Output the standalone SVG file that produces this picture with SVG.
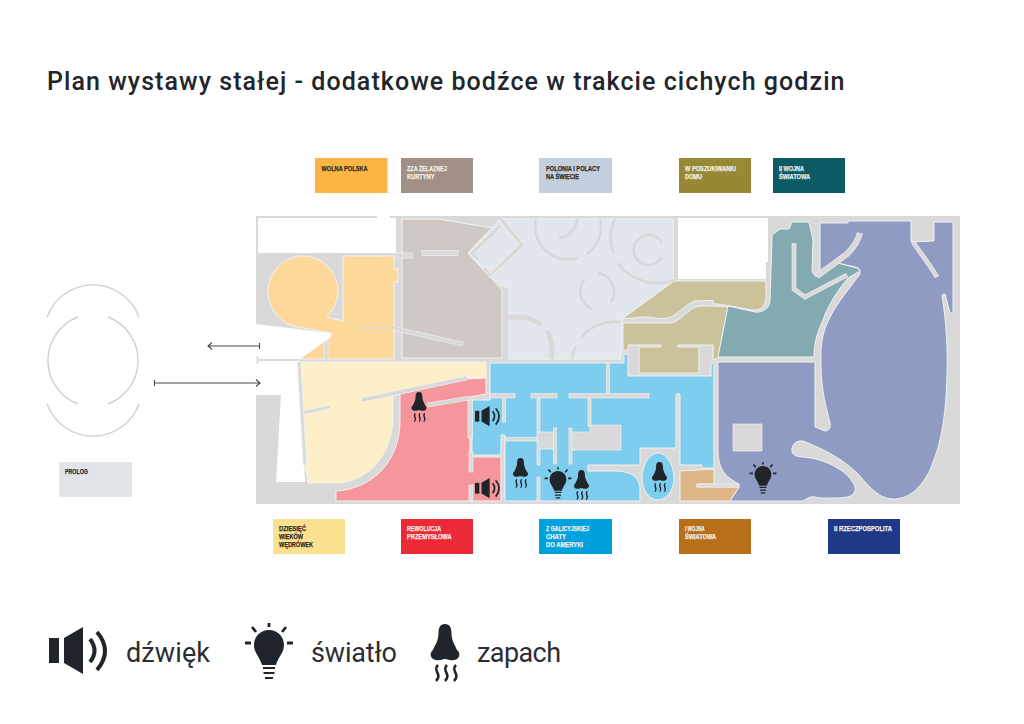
<svg xmlns="http://www.w3.org/2000/svg" xmlns:xlink="http://www.w3.org/1999/xlink" width="1024" height="724" viewBox="0 0 1024 724">
<style>
text{font-family:"Roboto","Liberation Sans",sans-serif}
.title{font-size:25px;font-weight:500;fill:#22262b;letter-spacing:.5px}
.leg{font-size:27px;fill:#2a2e33}
.l{font-family:"Liberation Sans",Arial,sans-serif;font-size:8px;font-weight:700;stroke-width:.25}
.d{fill:#2b2b26;stroke:#2b2b26}.w{fill:#f4f1ea;stroke:#f4f1ea}
.room{stroke:#f2f2f2;stroke-width:1;stroke-linejoin:round}
.wall{fill:#d9d9d9;stroke:#f0f0f0;stroke-width:.7}
.ln{fill:none;stroke:#f0f0f0;stroke-width:4.600;stroke-linecap:butt}
.li{fill:none;stroke:#d9d9d9;stroke-width:3.400;stroke-linecap:butt;stroke-linejoin:miter}
.a{fill:none;stroke:#d8d8d8;stroke-width:2.600;stroke-linecap:butt}
.a2{fill:none;stroke:#d9d9d9;stroke-width:5}
.pro{fill:none;stroke:#cfcfcf;stroke-width:1.4}
.ar{fill:none;stroke:#4a4a4a;stroke-width:1.1}
.ico{fill:#20242b}
.ics{fill:none;stroke:#20242b}
</style>
<defs>
<g id="speaker">
<rect class="ico" x="-29" y="-12" width="10" height="25"/>
<path class="ico" d="M-14,-12L5,-23V24L-14,13Z"/>
<path class="ics" stroke-width="4" d="M12,-11Q21,1 12,12"/>
<path class="ics" stroke-width="4" d="M19,-18Q35,1 19,20"/>
</g>
<g id="bulb">
<path class="ico" d="M0,-15C-9,-15 -15,-8 -15,0C-15,8 -9,12 -7,20H7C9,12 15,8 15,0C15,-8 9,-15 0,-15Z"/>
<path class="ics" stroke-width="2.200" d="M-6,23H6M-5.500,28H5.500M-4,33H4"/>
<path class="ics" stroke-width="2.800" d="M0,-22V-18M-17,-18L-13,-13M17,-18L13,-13M-24,-2H-18M18,-2H24"/>
</g>
<g id="nose">
<path class="ico" d="M0,0C-5,0 -6.500,4 -6.500,9C-6.500,17 -10,21 -12,26C-16,29 -15,35 -9,36C-5,37 -3,35 0,35C3,35 5,37 9,36C15,35 16,29 12,26C10,21 6.500,17 6.500,9C6.500,4 5,0 0,0Z"/>
<path class="ics" stroke-width="2.600" d="M-7,41C-13,47 -2,50 -9,57M2,41C-4,47 7,50 0,57M11,41C5,47 16,50 9,57"/>
</g>
</defs>

<text class="title" x="47" y="89.500" textLength="798">Plan wystawy stałej - dodatkowe bodźce w trakcie cichych godzin</text>

<g id="plan-base">
<path fill="#d9d9d9" d="M256,216H960V504H256Z"/>
<path fill="#fff" d="M258,218H396V253H258Z"/>
<path fill="#fff" d="M377,215H390V219H377Z"/>
<path fill="#fff" d="M678,218H768V262H766V279H678Z"/>
<path fill="#fff" d="M255,324L331,333V337L300,359.500H255Z"/>
<path fill="#fff" d="M255,359H299L305,482H276L281,395H255Z"/>
<path fill="none" stroke="#d9d9d9" stroke-width="1.800" d="M257.500,360H300M257.500,356V364"/>
<rect x="256" y="343" width="2" height="6" fill="#fff"/>
</g>

<g id="room-wolna-polska"><path class="room" fill="#fdd89b" d="M343,256H394V269H398V282H394V359H300L331,337V333L295,326.500C280,323 268,308 268,291C268,272 284,256 303,256C322,256 338,272 338,291C338,301 333,310 327,317L343,321Z"/></g>
<g id="room-zza-zelaznej"><path class="room" fill="#d0c8c4" d="M402,219H438L492,228L500,220L468,253L502,290V358H402Z"/></g>
<g id="room-polonia"><path class="room" fill="#e2e6ee" d="M500,219H673V281L622,319L621,359H509V288L501,286L468,253Z"/></g>
<g id="room-w-poszukiwaniu">
<path class="room" fill="#c9c29a" d="M674,281H766V298C766,306 760,311 752,310L728,305.500L713,303.500V300.500L695,301C685,304 680,314 668,318C660,320 650,316 643,317L622,319Z"/>
<path class="room" fill="#c9c29a" d="M623,323H670C680,323 688,307 700,306H713L728,307L718,358L713,360V345H678V347H699V373H639V347H661V345H628V350H623Z"/>
</g>
<g id="room-ii-wojna"><path class="room" fill="#83a9b1" d="M728,306L755,312C763,313 770,308 770,300L772,240L772,235L780,229H789L792,222H809L813,240L812,272L816,277L838,263L857,268L860,271L848,278C838,290 828,305 823,320C816,335 814,345 814,357H718Z"/></g>
<g id="room-ii-rzeczpospolita"><path class="room" fill="#8f9bc2" d="M718,362H815V427L825,431C830,431 831,426 830,423C826,405 820,390 821,350C822,330 830,313 848,290L860,274C861,270 858,267 855,267L838,263L820,272V223H848V221H911V242L934,241V222H953V313H950L945,294L942,295C946,320 948,350 947,375C946,410 943,440 930,470C920,490 908,499 893,499C880,499 870,488 860,476C848,463 830,452 808,443C800,439 794,441 792,448C791,454 795,457 803,457C820,458 838,466 848,476C855,484 858,490 852,495C848,499 830,498 820,498C815,497 812,496 808,498L803,501H730L739,487V484C726,477 718,470 718,450Z"/></g>
<g id="room-dziesiec-wiekow"><path class="room" fill="#fdf0c8" d="M299,362H486V378H467L393,396V418C392,455 368,483 335,483H308L305,466Z"/></g>
<g id="room-rewolucja"><path class="room" fill="#f5969d" d="M486,378V394L470,397V457H501V501H336V491C372,489 400,462 400,420V394L467,379Z"/></g>
<g id="room-i-wojna"><path class="room" fill="#deb585" d="M680,471L714,469V484H697V487H739L730,501H680Z"/></g>
<g id="room-galicja">
<path class="room" fill="#7fcdee" d="M490,363H624V354H628V376H711V363H714V468H702V465H680V394H676V448H640V465H588V471H617Q640,472 640,490V501H505V435H501V455H472V400H490Z"/>
<path class="room" fill="#7fcdee" d="M658,453C668,453 674,468 674,478C674,491 666,500 658,500C650,500 642,491 642,478C642,468 648,453 658,453Z"/>
</g>

<g id="walls">
<path class="wall" d="M733,424H762V451H733Z"/>
<path class="wall" d="M590,425H621V450H570V432H590Z"/>
<path class="wall" d="M537,432H555V449H540V465H537Z"/>
<rect class="wall" x="490" y="393.500" width="25" height="4.500"/>
<rect class="wall" x="531" y="393.500" width="26" height="4.500"/>
<rect class="wall" x="569" y="393.500" width="80" height="4.500"/>
<rect class="wall" x="606.500" y="363" width="3" height="31"/>
<rect class="wall" x="502.500" y="398" width="3" height="24"/>
<rect class="wall" x="537" y="398" width="3" height="34"/>
<rect class="wall" x="588" y="398" width="3" height="28"/>
<rect class="wall" x="553.500" y="428" width="3" height="36"/>
<rect class="wall" x="569" y="428" width="3" height="36"/>
<rect class="wall" x="505" y="437.500" width="32" height="3.500"/>
<rect class="wall" x="537" y="477" width="3" height="24"/>
<rect class="wall" x="468" y="400" width="4.500" height="38"/>
<rect class="wall" x="469" y="452" width="4" height="20"/>
<rect class="wall" x="469" y="485" width="4" height="16"/>
<rect class="wall" x="396" y="253" width="16" height="5"/>
<rect class="wall" x="422" y="250.500" width="36" height="5"/>
<path class="ln" d="M396,329L463,344"/><path class="li" d="M396,329L463,344"/>
<path class="li" d="M357,328H396" style="stroke-width:1.500"/>
<rect class="wall" x="324.500" y="341" width="3.500" height="19"/>
<path class="ln" d="M299,362L305,465"/><path class="li" style="stroke-width:2.500" d="M299,362L305,465"/>
<path class="ln" d="M302,413L330,407"/><path class="li" style="stroke-width:2.500" d="M302,413L330,407"/>
<path class="ln" d="M362,400L467,378"/><path class="li" d="M362,400L467,378"/>
<path class="ln" d="M427,405L470,398"/><path class="li" d="M427,405L470,398"/>
<path class="ln" d="M500,218L522,245L490,275"/><path class="li" d="M500,218L522,245L490,275"/>
<path class="ln" d="M500,226L472,253L478,260"/><path class="li" d="M500,226L472,253L478,260"/>
<path class="ln" d="M484,268L491,276"/><path class="li" d="M484,268L491,276"/>
<path class="ln" style="stroke-width:6" d="M817,276L847,254C853,248 858,241 860,233"/><path class="li" style="stroke-width:5" d="M817,276L847,254C853,248 858,241 860,233"/>
<path class="ln" d="M794,243V289L805,297L847,275"/><path class="li" d="M794,243V289L805,297L847,275"/>
<path class="ln" d="M913,242C922,255 930,265 937,277"/><path class="li" d="M913,242C922,255 930,265 937,277"/>
<rect class="wall" x="697" y="484" width="42" height="3"/>
</g>

<g id="arcs">
<path class="a" d="M536,219A33,33 0 0 0 578,258"/>
<path class="a" d="M577,219A20,20 0 0 1 559,238"/>
<path class="a" d="M600,219A33,33 0 0 1 587,254"/>
<path class="a" d="M615,219A40,40 0 0 0 614,253"/>
<path class="a" d="M618,263A48,48 0 0 0 674,280"/>
<path class="a" d="M662,243A15,15 0 1 0 662,257"/>
<path class="a" d="M585,279A19,19 0 0 0 592,309"/>
<path class="a" d="M598,273A19,19 0 0 1 611,302"/>
<path class="a" d="M582,337A42,42 0 0 1 620,322"/>
<path class="a" d="M576,346A30,30 0 0 0 572,359"/>
<path class="a2" d="M508,318A45,45 0 0 1 542,325"/>
<path class="a2" d="M547,331A40,40 0 0 1 551,359"/>
</g>

<g id="prolog-plan">
<path class="pro" d="M78,317A46.500,46.500 0 0 0 78,404"/>
<path class="pro" d="M108,317A46.500,46.500 0 0 1 108,404"/>
<path class="pro" d="M47,317A49,49 0 0 1 139,317"/>
<path class="pro" d="M47,404A49,49 0 0 0 139,404"/>
</g>

<g id="connectors">
<path class="ar" d="M259,346H208M212,342.500L208,346L212,349.500M259.500,343V349"/>
<path class="ar" d="M154,383H260M256,379.500L260,383L256,386.500M154.500,380V386"/>
</g>

<g id="markers">
<use xlink:href="#speaker" href="#speaker" transform="translate(487.500,416) scale(.43)"/>
<use xlink:href="#speaker" href="#speaker" transform="translate(487.500,488) scale(.43)"/>
<use xlink:href="#nose" href="#nose" transform="translate(419,392) scale(.52)"/>
<use xlink:href="#nose" href="#nose" transform="translate(520.500,458) scale(.52)"/>
<use xlink:href="#nose" href="#nose" transform="translate(581.500,470) scale(.52)"/>
<use xlink:href="#nose" href="#nose" transform="translate(659.500,462) scale(.52)"/>
<use xlink:href="#bulb" href="#bulb" transform="translate(558,479.500) scale(.56)"/>
<use xlink:href="#bulb" href="#bulb" transform="translate(763,474.500) scale(.56)"/>
</g>

<g id="label-wolna-polska"><rect x="315" y="158" width="72.500" height="35" fill="#fbb545"/><text class="l d" x="321.500" y="170.500" textLength="46" lengthAdjust="spacingAndGlyphs">WOLNA POLSKA</text></g>
<g id="label-zza"><rect x="401" y="158" width="72" height="35" fill="#a09087"/><text class="l w" x="407" y="170.500" textLength="40" lengthAdjust="spacingAndGlyphs">ZZA ŻELAZNEJ</text><text class="l w" x="407" y="178.500" textLength="27.500" lengthAdjust="spacingAndGlyphs">KURTYNY</text></g>
<g id="label-polonia"><rect x="539" y="158" width="73" height="35" fill="#c3cfdd"/><text class="l d" x="546" y="170.500" textLength="54" lengthAdjust="spacingAndGlyphs">POLONIA I POLACY</text><text class="l d" x="546" y="178.500" textLength="33" lengthAdjust="spacingAndGlyphs">NA ŚWIECIE</text></g>
<g id="label-poszukiwanie"><rect x="679" y="158" width="72" height="35" fill="#968834"/><text class="l w" x="685" y="170.500" textLength="51" lengthAdjust="spacingAndGlyphs">W POSZUKIWANIU</text><text class="l w" x="685" y="178.500" textLength="17" lengthAdjust="spacingAndGlyphs">DOMU</text></g>
<g id="label-ii-wojna"><rect x="773" y="158" width="72" height="35" fill="#0c5a63"/><text class="l w" x="779" y="170.500" textLength="25" lengthAdjust="spacingAndGlyphs">II WOJNA</text><text class="l w" x="779" y="178.500" textLength="31" lengthAdjust="spacingAndGlyphs">ŚWIATOWA</text></g>

<g id="label-prolog"><rect x="59" y="462" width="73" height="35" fill="#e1e4e8"/><text class="l d" x="65" y="473.500" textLength="23" lengthAdjust="spacingAndGlyphs">PROLOG</text></g>

<g id="label-dziesiec"><rect x="273" y="519" width="72" height="35" fill="#fbe08f"/><text class="l d" x="279" y="530.500" textLength="27" lengthAdjust="spacingAndGlyphs">DZIESIĘĆ</text><text class="l d" x="279" y="538.500" textLength="24" lengthAdjust="spacingAndGlyphs">WIEKÓW</text><text class="l d" x="279" y="546.500" textLength="34" lengthAdjust="spacingAndGlyphs">WĘDRÓWEK</text></g>
<g id="label-rewolucja"><rect x="401" y="519" width="72" height="35" fill="#ec2a37"/><text class="l w" x="407" y="530.500" textLength="34" lengthAdjust="spacingAndGlyphs">REWOLUCJA</text><text class="l w" x="407" y="538.500" textLength="44.500" lengthAdjust="spacingAndGlyphs">PRZEMYSŁOWA</text></g>
<g id="label-galicja"><rect x="539" y="519" width="73" height="35" fill="#00a1df"/><text class="l w" x="546" y="530.500" textLength="43" lengthAdjust="spacingAndGlyphs">Z GALICYJSKIEJ</text><text class="l w" x="546" y="538.500" textLength="20" lengthAdjust="spacingAndGlyphs">CHATY</text><text class="l w" x="546" y="546.500" textLength="37" lengthAdjust="spacingAndGlyphs">DO AMERYKI</text></g>
<g id="label-i-wojna"><rect x="679" y="519" width="72" height="35" fill="#b86f1a"/><text class="l w" x="685" y="530.500" textLength="19.500" lengthAdjust="spacingAndGlyphs">I WOJNA</text><text class="l w" x="685" y="538.500" textLength="31" lengthAdjust="spacingAndGlyphs">ŚWIATOWA</text></g>
<g id="label-ii-rzeczpospolita"><rect x="828" y="519" width="72" height="35" fill="#1e3a87"/><text class="l w" x="834" y="530.500" textLength="58" lengthAdjust="spacingAndGlyphs">II RZECZPOSPOLITA</text></g>

<g id="legend">
<use xlink:href="#speaker" href="#speaker" transform="translate(78,650)"/>
<text class="leg" x="126" y="662" textLength="84">dźwięk</text>
<use xlink:href="#bulb" href="#bulb" transform="translate(269,645)"/>
<text class="leg" x="311" y="662" textLength="86">światło</text>
<use xlink:href="#nose" href="#nose" transform="translate(445,624)"/>
<text class="leg" x="477" y="662" textLength="84">zapach</text>
</g>
</svg>
